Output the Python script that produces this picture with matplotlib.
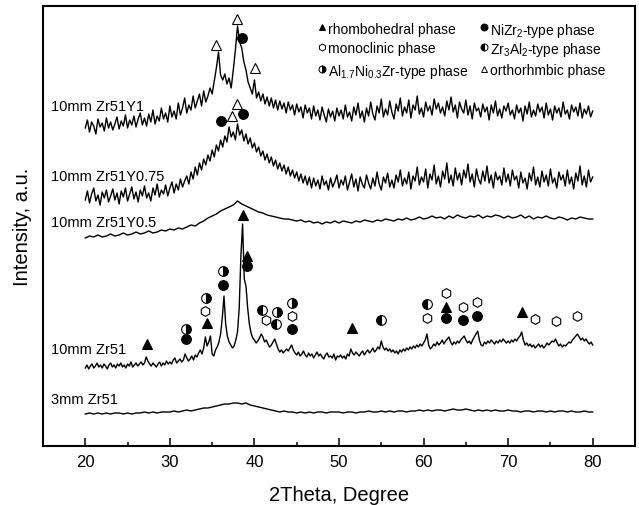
import numpy as np
import matplotlib
matplotlib.use('Agg')
import matplotlib.pyplot as plt

plt.rcParams.update({
    'font.family': 'Liberation Sans',
    'mathtext.fontset': 'custom',
    'mathtext.rm': 'Liberation Sans',
    'mathtext.it': 'Liberation Sans:italic',
    'mathtext.bf': 'Liberation Sans:bold',
})

# -----------------------------------------------------------------------------
# XRD traces (intensity in a.u., already stacked).
# Each trace starts at 2theta = 20 and uses a fixed step.
# -----------------------------------------------------------------------------
TWO_THETA_START = 20.0

# 10mm Zr51Y1, step 0.25
step_y1 = 0.25
zr51_y1 = [
    318, 326, 314, 324, 320, 312, 327, 319, 323, 315, 328, 318, 324, 316, 322, 329, 317, 325, 320, 331,
    318, 326, 321, 330, 319, 327, 333, 321, 328, 320, 332, 324, 336, 322, 330, 325, 338, 327, 333, 324,
    340, 329, 335, 327, 343, 331, 338, 348, 333, 341, 336, 350, 338, 345, 352, 340, 355, 344, 350, 358,
    352, 365, 378, 394, 371, 366, 372, 362, 368, 358, 376, 396, 420, 404, 398, 384, 376, 364, 358, 352,
    366, 348, 354, 345, 352, 342, 349, 340, 348, 338, 346, 336, 345, 337, 343, 333, 344, 336, 341, 331,
    342, 334, 339, 328, 341, 333, 338, 327, 340, 330, 336, 326, 339, 331, 324, 337, 329, 335, 325, 338,
    330, 336, 327, 341, 329, 334, 325, 339, 331, 343, 328, 335, 324, 338, 330, 344, 332, 326, 340, 333,
    347, 329, 337, 331, 345, 334, 327, 342, 335, 348, 330, 339, 333, 346, 328, 341, 336, 350, 332, 338,
    329, 344, 335, 340, 331, 347, 337, 343, 333, 339, 330, 345, 336, 349, 334, 341, 328, 344, 337, 333,
    346, 331, 340, 327, 343, 335, 338, 329, 342, 334, 339, 326, 341, 333, 345, 330, 337, 328, 340, 335,
    343, 331, 336, 327, 341, 333, 338, 325, 340, 332, 344, 329, 336, 330, 342, 334, 339, 328, 343, 331,
    337, 326, 340, 333, 338, 329, 344, 332, 336, 327, 341, 334, 339, 330, 343, 328, 337, 332, 340, 329,
    335,
]

# 10mm Zr51Y0.75, step 0.25
step_y075 = 0.25
zr51_y075 = [
    246, 255, 243, 252, 258, 245, 251, 241, 254, 248, 256, 244, 250, 257, 246, 253, 242, 255, 249, 258,
    245, 252, 259, 247, 254, 244, 256, 250, 260, 248, 253, 245, 258, 251, 262, 249, 256, 252, 261, 250,
    258, 264, 253, 262, 256, 267, 259, 265, 270, 262, 274, 267, 279, 271, 283, 276, 287, 281, 291, 285,
    296, 289, 301, 295, 306, 299, 310, 304, 319, 309, 314, 306, 322, 311, 316, 305, 312, 302, 308, 298,
    303, 294, 299, 290, 295, 286, 292, 283, 289, 280, 286, 277, 283, 275, 281, 272, 279, 270, 276, 268,
    274, 265, 272, 263, 270, 261, 269, 258, 268, 260, 266, 257, 270, 261, 265, 256, 268, 259, 264, 271,
    258, 266, 261, 270, 256, 264, 272, 259, 267, 255, 269, 262, 258, 271, 263, 257, 268, 260, 274, 262,
    256, 269, 263, 273, 259, 266, 258, 271, 264, 276, 260, 268, 262, 274, 257, 270, 265, 279, 261, 269,
    264, 277, 258, 272, 266, 281, 262, 270, 259, 275, 267, 283, 263, 271, 260, 278, 266, 273, 261, 276,
    268, 282, 264, 272, 259, 277, 267, 262, 275, 265, 280, 263, 271, 258, 274, 266, 270, 261, 278, 264,
    272, 260, 276, 266, 270, 258, 274, 263, 268, 257, 273, 265, 279, 261, 269, 259, 275, 264, 271, 260,
    277, 263, 268, 258, 274, 266, 271, 260, 276, 262, 269, 257, 273, 265, 280, 261, 270, 259, 276, 264,
    269,
]

# 10mm Zr51Y0.5, step 0.5
step_y05 = 0.5
zr51_y05 = [
    208, 210, 209, 211, 209, 210, 212, 210, 211, 213,
    211, 212, 214, 212, 213, 215, 213, 214, 216, 215,
    217, 216, 218, 217, 219, 221, 220, 223, 225, 228,
    230, 232, 235, 237, 239, 241, 245, 242, 240, 238,
    236, 234, 233, 231, 230, 229, 228, 227, 227, 226,
    225, 226, 224, 225, 223, 224, 222, 224, 223, 225,
    223, 225, 224, 223, 225, 224, 226, 225, 224, 226,
    225, 227, 226, 225, 227, 226, 228, 226, 227, 229,
    227, 228, 230, 228, 229, 227, 230, 228, 231, 229,
    228, 230, 229, 231, 228, 230, 229, 231, 230, 228,
    230, 228, 229, 231, 228, 230, 227, 229, 228, 230,
    228, 227, 229, 228, 226, 228, 227, 229, 228, 227,
    227,
]

# 10mm Zr51, step 0.2
step_10mm = 0.2
zr51_10mm = [
    78, 81, 77, 80, 82, 78, 80, 83, 79, 81, 78, 82, 80, 77, 81, 83, 79, 81, 78, 82, 80, 83, 79, 81, 78,
    82, 80, 84, 79, 81, 83, 80, 82, 84, 81, 83, 89, 85, 82, 80, 83, 81, 79, 82, 84, 80, 83, 81, 85, 82,
    84, 82, 86, 88, 83, 85, 87, 84, 86, 92, 88, 85, 87, 90, 86, 91, 89, 93, 96, 92, 98, 109, 100, 104, 110,
    92, 90, 96, 99, 104, 112, 128, 150, 122, 110, 104, 101, 98, 100, 106, 114, 138, 190, 222, 167, 160, 138, 122, 113, 108,
    106, 103, 105, 108, 112, 109, 104, 106, 102, 99, 101, 104, 107, 102, 97, 94, 96, 93, 95, 97, 95, 98, 101, 96, 93,
    91, 94, 90, 92, 95, 91, 89, 93, 90, 92, 88, 91, 94, 90, 92, 89, 87, 91, 93, 89, 90, 88, 92, 86, 90,
    89, 91, 88, 90, 87, 92, 90, 97, 93, 91, 94, 92, 90, 93, 95, 91, 94, 96, 93, 95, 98, 94, 96, 99, 97,
    105, 99, 96, 98, 95, 97, 94, 96, 93, 95, 92, 96, 94, 97, 95, 98, 96, 99, 97, 100, 98, 101, 99, 102, 100,
    103, 106, 112, 101, 97, 99, 102, 100, 104, 101, 103, 106, 102, 105, 107, 109, 104, 101, 104, 102, 105, 103, 106, 108, 110,
    106, 103, 105, 102, 106, 109, 112, 115, 106, 101, 100, 104, 102, 105, 103, 106, 104, 102, 105, 103, 106, 104, 107, 105, 103,
    105, 103, 106, 104, 107, 105, 108, 110, 114, 106, 101, 103, 100, 102, 99, 101, 98, 100, 102, 99, 101, 98, 100, 103, 101,
    103, 105, 104, 107, 103, 100, 102, 99, 101, 100, 102, 104, 103, 106, 108, 110, 112, 109, 106, 108, 105, 107, 104, 102, 104,
    101,
]

# 3mm Zr51, step 0.5
step_3mm = 0.5
zr51_3mm = [
    32, 33, 32, 33, 32, 33, 32, 33, 33, 32,
    33, 32, 33, 33, 34, 33, 34, 33, 34, 34,
    34, 35, 34, 35, 36, 35, 36, 37, 38, 38,
    39, 40, 41, 42, 42, 43, 43, 42, 43, 41,
    40, 39, 38, 37, 36, 35, 34, 35, 34, 34,
    33, 34, 33, 34, 33, 34, 34, 33, 34, 34,
    34, 33, 34, 34, 33, 34, 34, 35, 34, 34,
    35, 34, 35, 34, 35, 35, 34, 35, 35, 36,
    35, 36, 35, 36, 36, 35, 36, 37, 36, 36,
    37, 36, 35, 36, 35, 36, 35, 36, 35, 35,
    36, 35, 35, 34, 35, 35, 34, 35, 35, 34,
    35, 34, 35, 35, 34, 35, 34, 34, 35, 34,
    34,
]

trace_labels = ["10mm Zr51Y1", "10mm Zr51Y0.75", "10mm Zr51Y0.5", "10mm Zr51", "3mm Zr51"]
label_heights = [340, 270, 224, 97, 47]

# phase marker positions (2theta, stacked intensity)
rhombo_x = [38.7, 39.1, 34.4, 27.3, 51.5, 62.7, 71.6]
rhombo_y = [231, 190, 123, 102, 118, 139, 134]
nizr2_x = [38.5, 36.1, 38.6, 39.1, 36.3, 31.9, 44.5, 62.7, 64.7, 66.3]
nizr2_y = [408, 325, 332, 180, 161, 107, 117, 128, 126, 130]
mono_x = [34.2, 41.4, 44.5, 60.4, 62.7, 64.7, 66.3, 73.2, 75.6, 78.2]
mono_y = [135, 126, 130, 128, 153, 139, 144, 127, 125, 130]
zr3al2_x = [40.9, 42.6, 55.0, 60.4]
zr3al2_y = [136, 122, 126, 142]
alnizr_x = [36.3, 34.3, 31.9, 42.7, 44.5]
alnizr_y = [175, 148, 117, 134, 143]
ortho_x = [37.9, 35.5, 40.1, 37.9, 37.3]
ortho_y = [427, 401, 378, 342, 330]

phase_names = [
    "rhombohedral phase", r"NiZr$_2$-type phase",
    "monoclinic phase", r"Zr$_3$Al$_2$-type phase",
    r"Al$_{1.7}$Ni$_{0.3}$Zr-type phase", "orthorhmbic phase",
]

x_ticks = [20, 30, 40, 50, 60, 70, 80]

# -----------------------------------------------------------------------------
styles = {
    'rhombo': dict(marker='^', color='black', markerfacecolor='black'),
    'nizr2': dict(marker='o', color='black', markerfacecolor='black'),
    'mono': dict(marker='h', color='black', markerfacecolor='white'),
    'zr3al2': dict(marker='o', color='black', fillstyle='left',
                   markerfacecolor='black', markerfacecoloralt='white'),
    'alnizr': dict(marker='o', color='black', fillstyle='right',
                   markerfacecolor='black', markerfacecoloralt='white'),
    'ortho': dict(marker='^', color='black', markerfacecolor='white'),
}

fig = plt.figure(figsize=(6.39, 5.06), dpi=100)
ax = fig.add_axes([43 / 639, 59 / 506, 592 / 639, 440 / 506])

traces = [(zr51_y1, step_y1), (zr51_y075, step_y075), (zr51_y05, step_y05),
          (zr51_10mm, step_10mm), (zr51_3mm, step_3mm)]
for vals, step in traces:
    x = TWO_THETA_START + step * np.arange(len(vals))
    ax.plot(x, vals, color='black', linewidth=1.0)

for lab, h in zip(trace_labels, label_heights):
    ax.text(16.0, h, lab, fontsize=10.5, ha='left', va='center')

ms = 7
mew = 0.8
for key, xs, ys in [('rhombo', rhombo_x, rhombo_y), ('nizr2', nizr2_x, nizr2_y),
                    ('mono', mono_x, mono_y), ('zr3al2', zr3al2_x, zr3al2_y),
                    ('alnizr', alnizr_x, alnizr_y), ('ortho', ortho_x, ortho_y)]:
    ax.plot(xs, ys, linestyle='none', markersize=ms, markeredgewidth=mew,
            **styles[key])

# legend drawn by hand (two columns, three rows)
leg_keys = ['rhombo', 'nizr2', 'mono', 'zr3al2', 'alnizr', 'ortho']
col_x = [0.471, 0.745]
row_y = [0.952, 0.907, 0.857]
for i, (key, name) in enumerate(zip(leg_keys, phase_names)):
    cx = col_x[i % 2]
    ry = row_y[i // 2]
    ax.plot([cx], [ry], transform=ax.transAxes, linestyle='none',
            markersize=5, markeredgewidth=0.7, clip_on=False, **styles[key])
    ax.text(cx + 0.010, ry, name, transform=ax.transAxes, fontsize=10,
            ha='left', va='center_baseline')

ax.set_xlim(15, 85)
ax.set_ylim(0, 440)
ax.set_xticks(x_ticks)
ax.set_xticks(np.arange(25, 80, 10), minor=True)
ax.tick_params(axis='x', which='major', direction='in', length=6, width=1.1,
               labelsize=12, pad=6, top=False)
ax.tick_params(axis='x', which='minor', direction='in', length=3, width=1.1, top=False)
ax.set_yticks([])
for sp in ax.spines.values():
    sp.set_linewidth(1.5)

ax.set_xlabel("2Theta, Degree", fontsize=14.5, labelpad=11)
ax.set_ylabel("Intensity, a.u.", fontsize=14.5, labelpad=8)

fig.savefig("out.png", dpi=100)
